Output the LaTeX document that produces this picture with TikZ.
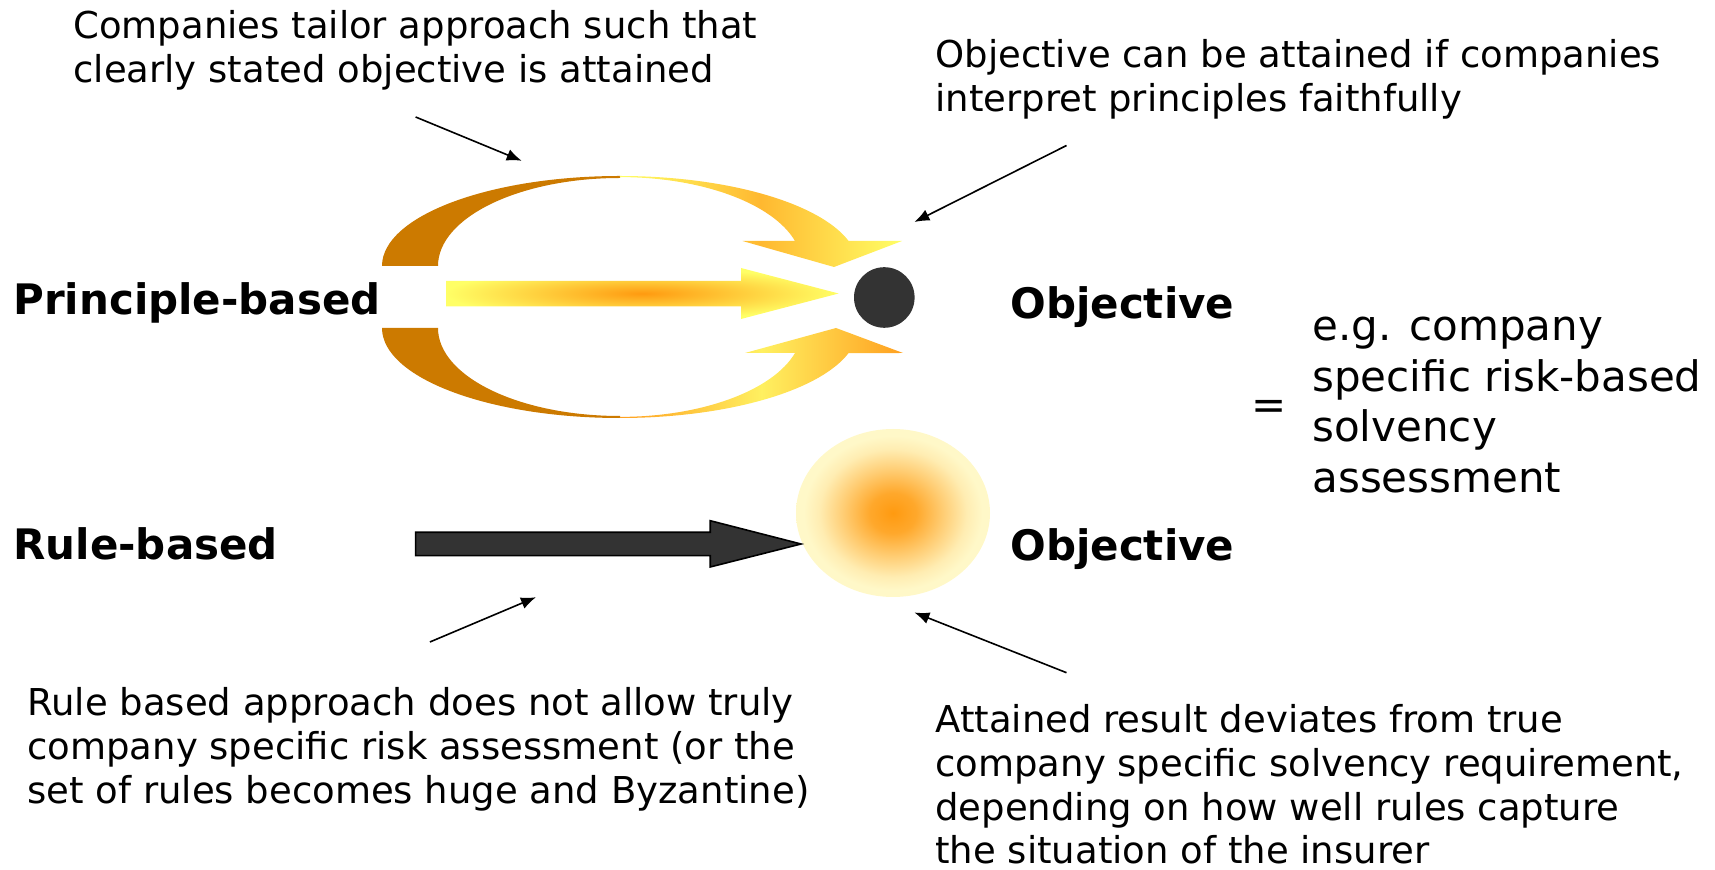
\documentclass[tikz,border=0pt]{standalone}
\usepackage{fontspec}
\setmainfont{DejaVu Sans}
\usetikzlibrary{arrows.meta}
\definecolor{brownA}{HTML}{CC7A00}
\definecolor{yelA}{HTML}{FFFF66}
\definecolor{orA}{HTML}{FF9A10}
\definecolor{orB}{HTML}{FFB830}
\definecolor{orC}{HTML}{FFA020}
\definecolor{yelB}{HTML}{FFF060}
\definecolor{darkA}{HTML}{333333}
\definecolor{creamA}{HTML}{FFF8C8}
\pgfdeclareradialshading{midglow}{\pgfpoint{0bp}{0bp}}{color(0bp)=(orA); color(25bp)=(yelA); color(50bp)=(yelA)}
\pgfdeclareradialshading{ballglow}{\pgfpoint{0bp}{0bp}}{color(0bp)=(orA); color(6bp)=(orA!85!creamA); color(13bp)=(orA!45!creamA); color(19bp)=(orA!12!creamA); color(23bp)=(creamA); color(50bp)=(creamA)}
\newcommand{\mylines}[1]{\vtop{\halign{##\hfil\cr#1\crcr}}}
\begin{document}
\begin{tikzpicture}[x=0.5pt,y=-0.5pt,
  ann/.style={anchor=base west, inner sep=0pt, font=\fontsize{18.5}{21.8}\selectfont},
  lab/.style={anchor=base west, inner sep=0pt, font=\fontsize{21}{25}\selectfont\bfseries},
  eg/.style={anchor=base west, inner sep=0pt, font=\fontsize{21}{25.2}\selectfont},
  ptr/.style={-{Latex[length=7.5pt,width=6pt]}, line width=0.8pt, black},
  brownband/.style={fill=brownA},
]
\useasboundingbox (0,0) rectangle (1715,870);

% upper curved arrow
\fill[brownband] (382,266) arc[start angle=180,end angle=270,x radius=238,y radius=90]
  -- (620,178) arc[start angle=270,end angle=180,x radius=182,y radius=88] -- cycle;
\shade[left color=yelA, right color=yelA, middle color=orB]
  (620,176) arc[start angle=270,end angle=343.8,x radius=238,y radius=90]
  -- (902,241) -- (834,267) -- (742.5,241) -- (795,241)
  arc[start angle=344.1,end angle=270,x radius=182,y radius=88] -- cycle;

% lower curved arrow
\fill[brownband] (382,328) arc[start angle=180,end angle=90,x radius=238,y radius=90]
  -- (620,416) arc[start angle=90,end angle=180,x radius=182,y radius=88] -- cycle;
\shade[left color=orC, right color=orC, middle color=yelB]
  (620,418) arc[start angle=90,end angle=16.2,x radius=238,y radius=90]
  -- (903,353) -- (836,328) -- (745,353) -- (795,353)
  arc[start angle=15.9,end angle=90,x radius=182,y radius=88] -- cycle;

% middle arrow
\shade[shading=midglow]
  (446,281) -- (741,281) -- (741,268) -- (838.6,293.5) -- (741,319) -- (741,306.5) -- (446,306.5) -- cycle;

% objective dot
\node[circle, fill=darkA, minimum size=30.3pt, inner sep=0pt] (dot) at (884.3,297.5) {};

% glow
\shade[shading=ballglow] (893,513) ellipse[x radius=97, y radius=84];
\coordinate (glow) at (893,513);

% rule-based arrow
\filldraw[fill=darkA, draw=black, line width=0.8pt]
  (415.6,532.3) -- (710.2,532.3) -- (710.2,520.7) -- (801,544) -- (710.2,567) -- (710.2,555.7) -- (415.6,555.7) -- cycle;

% labels
\node[lab] (pb) at (13,315) {Principle-based};
\node[lab] (rb) at (13,560) {Rule-based};
\node[lab] (o1) at (1010,319) {Objective};
\node[lab] (o2) at (1010,561) {Objective};

% annotations
\node[ann] (t1) at (73,39) {\mylines{Companies tailor approach such that\cr clearly stated objective is attained}};
\node[ann] (t2) at (935,68) {\mylines{Objective can be attained if companies\cr interpret principles faithfully}};
\node[eg] (t3) at (1312,341) {\mylines{e.g. company\cr specific risk-based\cr solvency\cr assessment}};
\node[inner sep=0pt, font=\fontsize{21}{25}\selectfont] (eq) at (1269,410) {=};
\node[ann] (t4) at (27,716) {\mylines{Rule based approach does not allow truly\cr company specific risk assessment (or the\cr set of rules becomes huge and Byzantine)}};
\node[ann] (t5) at (935,733) {\mylines{Attained result deviates from true\cr company specific solvency requirement,\cr depending on how well rules capture\cr the situation of the insurer}};

% pointers
\coordinate (p1s) at (415.6,117); \coordinate (p1e) at (521.7,160.8);
\coordinate (p2s) at (1066.5,145.5); \coordinate (p2e) at (914.4,222);
\coordinate (p3s) at (429.9,642); \coordinate (p3e) at (536,597.2);
\coordinate (p4s) at (1066.5,672.7); \coordinate (p4e) at (914.4,612.5);
\draw[ptr] (p1s) -- (p1e);
\draw[ptr] (p2s) -- (p2e);
\draw[ptr] (p3s) -- (p3e);
\draw[ptr] (p4s) -- (p4e);
\end{tikzpicture}
\end{document}
